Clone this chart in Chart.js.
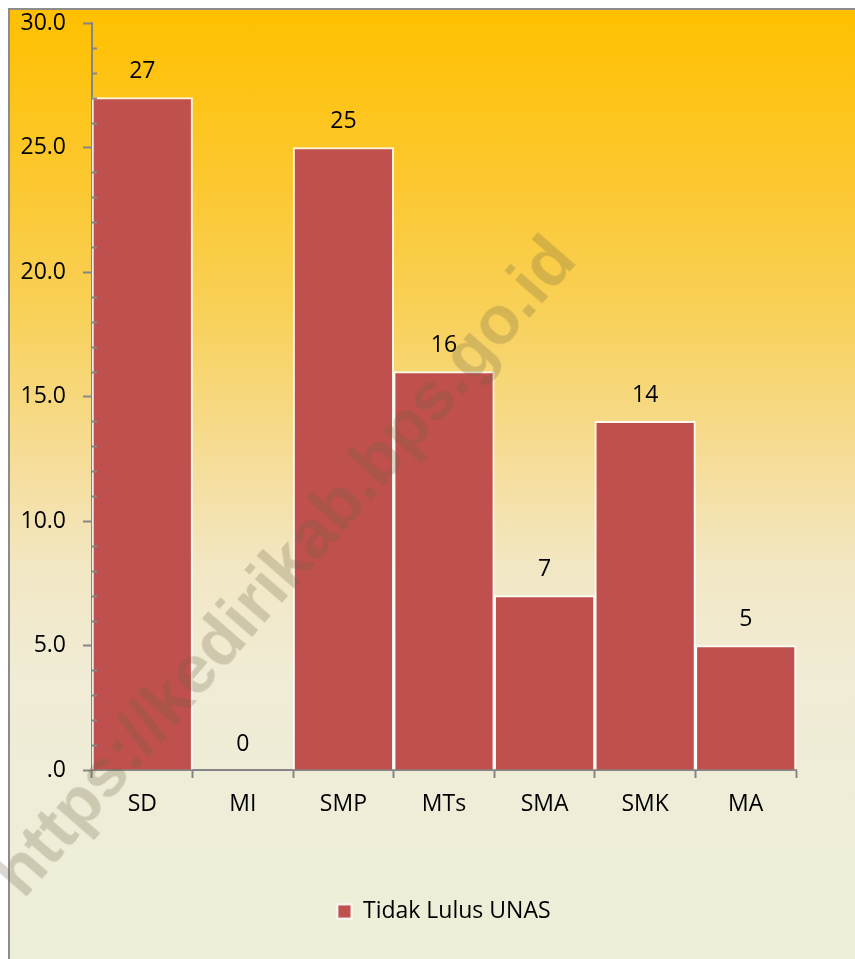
<!DOCTYPE html>
<html>
<head>
<meta charset="utf-8">
<script src="https://cdn.jsdelivr.net/npm/chart.js@4.4.1/dist/chart.umd.min.js"></script>
<style>
  html, body { margin: 0; padding: 0; background: #fff; overflow: hidden; }
  #frame {
    position: absolute; left: 8px; top: 8px; width: 900px; height: 960px;
    border-top: 2px solid #8c8c8c; border-left: 2px solid #8c8c8c;
    background: linear-gradient(to bottom, #ffc000 0%, #fcc830 18%, #f8d15a 32%, #f6dc94 46%, #f2e7c4 58%, #f0ecd6 70%, #edeed9 100%);
  }
  #chart { position: absolute; left: 0; top: 0; }
  #mark {
    position: absolute; left: 283px; top: 565px;
    transform: translate(-50%, -50%) rotate(-49deg);
    font: bold 68px "Liberation Sans", Arial, sans-serif;
    color: rgba(105, 95, 65, 0.25); white-space: nowrap; pointer-events: none;
  }
</style>
</head>
<body>
<div id="frame"></div>
<canvas id="chart" width="855" height="959"></canvas>
<div id="mark">https://kedirikab.bps.go.id</div>
<script>
  // data
  const categories = ['SD', 'MI', 'SMP', 'MTs', 'SMA', 'SMK', 'MA'];
  const tidakLulus = [27, 0, 25, 16, 7, 14, 5];
  const seriesName = 'Tidak Lulus UNAS';
  const yMax = 30;
  const yStep = 5;

  const FONT = { family: '"Open Sans", sans-serif', size: 23 };
  const AXIS_GREY = '#868686';

  /** small inside ticks every 1.0 on the value axis */
  const minorTicks = {
    id: 'minorTicks',
    afterDraw(chart) {
      const y = chart.scales.y;
      const ctx = chart.ctx;
      ctx.save();
      ctx.strokeStyle = AXIS_GREY;
      ctx.lineWidth = 2;
      for (let v = 1; v < yMax; v++) {
        if (v % yStep === 0) continue;
        const py = Math.round(y.getPixelForValue(v)) + 0.5;
        ctx.beginPath();
        ctx.moveTo(y.right, py);
        ctx.lineTo(y.right + 5, py);
        ctx.stroke();
      }
      ctx.restore();
    }
  };

  /** value labels above each bar */
  const valueLabels = {
    id: 'valueLabels',
    afterDatasetsDraw(chart) {
      const ctx = chart.ctx;
      const meta = chart.getDatasetMeta(0);
      ctx.save();
      ctx.font = FONT.size + 'px ' + FONT.family;
      ctx.fillStyle = '#000';
      ctx.textAlign = 'center';
      ctx.textBaseline = 'middle';
      meta.data.forEach(function (bar, i) {
        ctx.fillText(String(tidakLulus[i]), bar.x, bar.y - 26);
      });
      ctx.restore();
    }
  };

  new Chart(document.getElementById('chart'), {
    type: 'bar',
    data: {
      labels: categories,
      datasets: [{
        label: seriesName,
        data: tidakLulus,
        backgroundColor: '#c0504d',
        borderColor: 'rgba(255,255,255,0.85)',
        borderWidth: 2,
        categoryPercentage: 1,
        barPercentage: 1
      }]
    },
    options: {
      responsive: false,
      devicePixelRatio: 1,
      animation: false,
      layout: { padding: { left: 4, right: 59, top: 23, bottom: 26 } },
      scales: {
        x: {
          grid: { drawOnChartArea: false, tickLength: 8, tickColor: AXIS_GREY, tickWidth: 2, offset: true },
          border: { color: AXIS_GREY, width: 2 },
          ticks: { color: '#000', font: FONT, padding: 13, maxRotation: 0 },
          afterFit: function (s) { s.height = 120; }
        },
        y: {
          min: 0,
          max: yMax,
          grid: { drawOnChartArea: false, tickLength: 9, tickColor: AXIS_GREY, tickWidth: 2 },
          border: { color: AXIS_GREY, width: 2 },
          ticks: {
            stepSize: yStep,
            color: '#000',
            font: FONT,
            padding: 17,
            callback: function (v) { return v === 0 ? '.0' : v.toFixed(1); }
          },
          afterFit: function (s) { s.width = 88; s.paddingTop = 0; s.paddingBottom = 0; }
        }
      },
      plugins: {
        legend: {
          position: 'bottom',
          fullSize: false,
          labels: { color: '#000', font: FONT, boxWidth: 14, boxHeight: 14, padding: 10 }
        },
        tooltip: { enabled: false }
      }
    },
    plugins: [minorTicks, valueLabels]
  });
</script>
</body>
</html>
